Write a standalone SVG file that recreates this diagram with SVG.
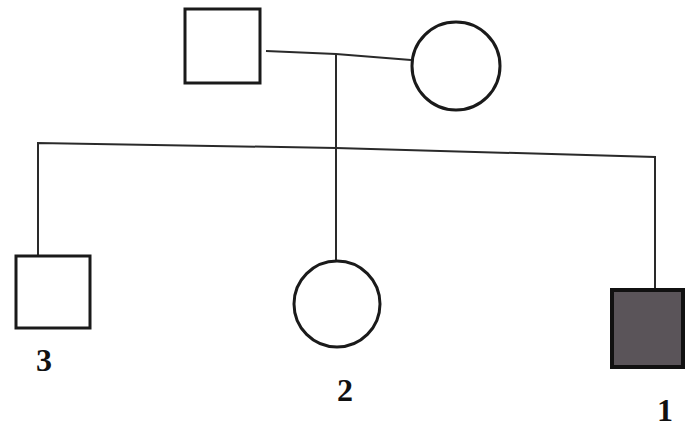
<svg xmlns="http://www.w3.org/2000/svg" width="688" height="437" viewBox="0 0 688 437">
<style>
.s{fill:none;stroke:#1a1a1a;stroke-width:3}
.l{fill:none;stroke:#2a2a2a;stroke-width:2}
.t{font-family:"Liberation Serif",serif;font-weight:bold;font-size:32px;fill:#111;text-anchor:middle}
</style>
<rect width="688" height="437" fill="#fff"/>
<g id="connectors">
<polyline class="l" points="266,51 336,54 411,60"/>
<line class="l" x1="336" y1="54" x2="336" y2="260"/>
<polyline class="l" points="38,255 38,143 336,148 655,157 655,290"/>
</g>
<g id="father"><rect class="s" x="185" y="9" width="75" height="74"/></g>
<g id="mother"><circle class="s" cx="456" cy="66" r="44"/></g>
<g id="n3"><rect class="s" x="16" y="256" width="74" height="72"/><text class="t" x="44" y="371">3</text></g>
<g id="n2"><circle class="s" cx="337" cy="304" r="43"/><text class="t" x="345" y="401">2</text></g>
<g id="n1"><rect x="612" y="290" width="71" height="77" fill="#5a5459" stroke="#111" stroke-width="4"/><text class="t" x="665" y="421">1</text></g>
</svg>
